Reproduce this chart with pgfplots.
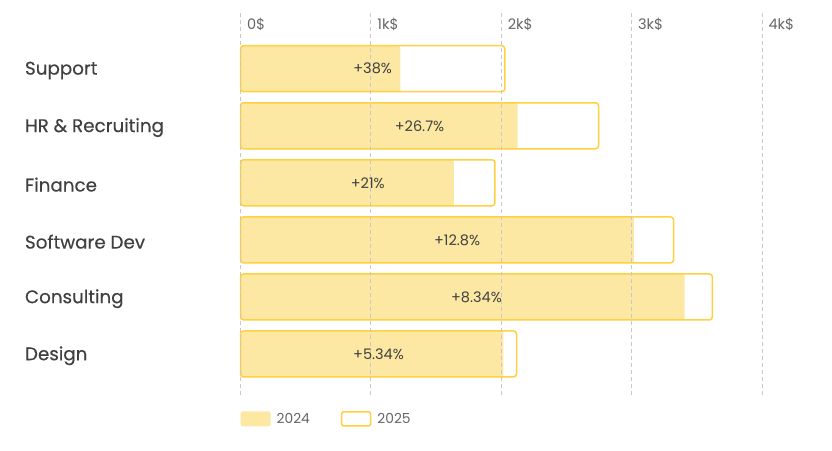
\documentclass[border=0pt]{standalone}
\usepackage{pgfplots}
\pgfplotsset{compat=1.18}
\usepackage{pgfplotstable}
\usepackage{fontspec}
\setmainfont{Poppins}
\newfontfamily\labfont{Poppins}[FakeBold=0.35]
\definecolor{barfill}{HTML}{FCE8A2}
\definecolor{barline}{HTML}{FFD040}
\definecolor{gridc}{HTML}{C8C8C8}
\definecolor{labc}{HTML}{404040}
\definecolor{tickc}{HTML}{666666}
\pgfplotstableread{
y v24 v25 mid lab
5 1227 2027 1013.5 +38\%
4 2125 2746 1373 +26.7\%
3 1637 1952 976 +21\%
2 3017 3322 1661 +12.8\%
1 3406 3619 1809.5 +8.34\%
0 2017 2117 1058.5 +5.34\%
}\data
\begin{document}
\begin{tikzpicture}
\useasboundingbox (0,0) rectangle (832pt,450pt);
\begin{axis}[
  at={(240.5pt,55pt)}, anchor=south west,
  scale only axis, width=521.5pt, height=385pt,
  xmin=0, xmax=4000, ymin=-0.72, ymax=6.03,
  axis on top, clip=false,
  axis line style={draw=none},
  major tick length=0pt,
  xtick={0,1000,2000,3000,4000},
  xticklabels={0\$,1k\$,2k\$,3k\$,4k\$},
  xticklabel pos=upper,
  xticklabel style={anchor=west, xshift=3pt, yshift=-14pt, font=\fontsize{14.5}{16}\selectfont, text=tickc},
  ytick={0,1,2,3,4,5},
  yticklabels={Design,Consulting,Software Dev,Finance,HR \& Recruiting,Support},
  yticklabel style={anchor=west, xshift=-219pt, yshift=-1.8pt, font=\labfont\fontsize{18.3}{20}\selectfont, text=labc},
  xmajorgrids, ymajorgrids=false,
  major grid style={gridc, dash pattern=on 4pt off 3pt, line width=0.8pt},
  xbar, bar width=46pt, bar shift=0pt,
  legend columns=2,
  legend style={draw=none, fill=none, at={(0,-0.062)}, anchor=west, inner sep=0pt,
    font=\fontsize{13.8}{15}\selectfont, text=tickc,
    /tikz/every odd column/.append style={column sep=4pt},
    /tikz/every even column/.append style={column sep=29pt}},
  legend cell align=left,
]
\addplot[fill=barfill, draw=none, rounded corners=2pt,
  legend image code/.code={\fill[barfill] (0pt,-7.5pt) rectangle (30pt,7.5pt);}]
  table[x=v24, y=y] {\data};
\addlegendentry{2024}
\addplot[fill=none, draw=barline, line width=1.5pt, rounded corners=3pt,
  legend image code/.code={\draw[barline, line width=1.5pt, rounded corners=1.5pt] (0pt,-7pt) rectangle (29pt,7pt);}]
  table[x=v25, y=y] {\data};
\addlegendentry{2025}
\addplot[forget plot, draw=none, mark=none, xbar=false, only marks,
  nodes near coords, point meta=explicit symbolic,
  every node near coord/.append style={anchor=center, font=\fontsize{14.5}{16}\selectfont, text=labc}]
  table[x=mid, y=y, meta=lab] {\data};
\end{axis}
\end{tikzpicture}
\end{document}
